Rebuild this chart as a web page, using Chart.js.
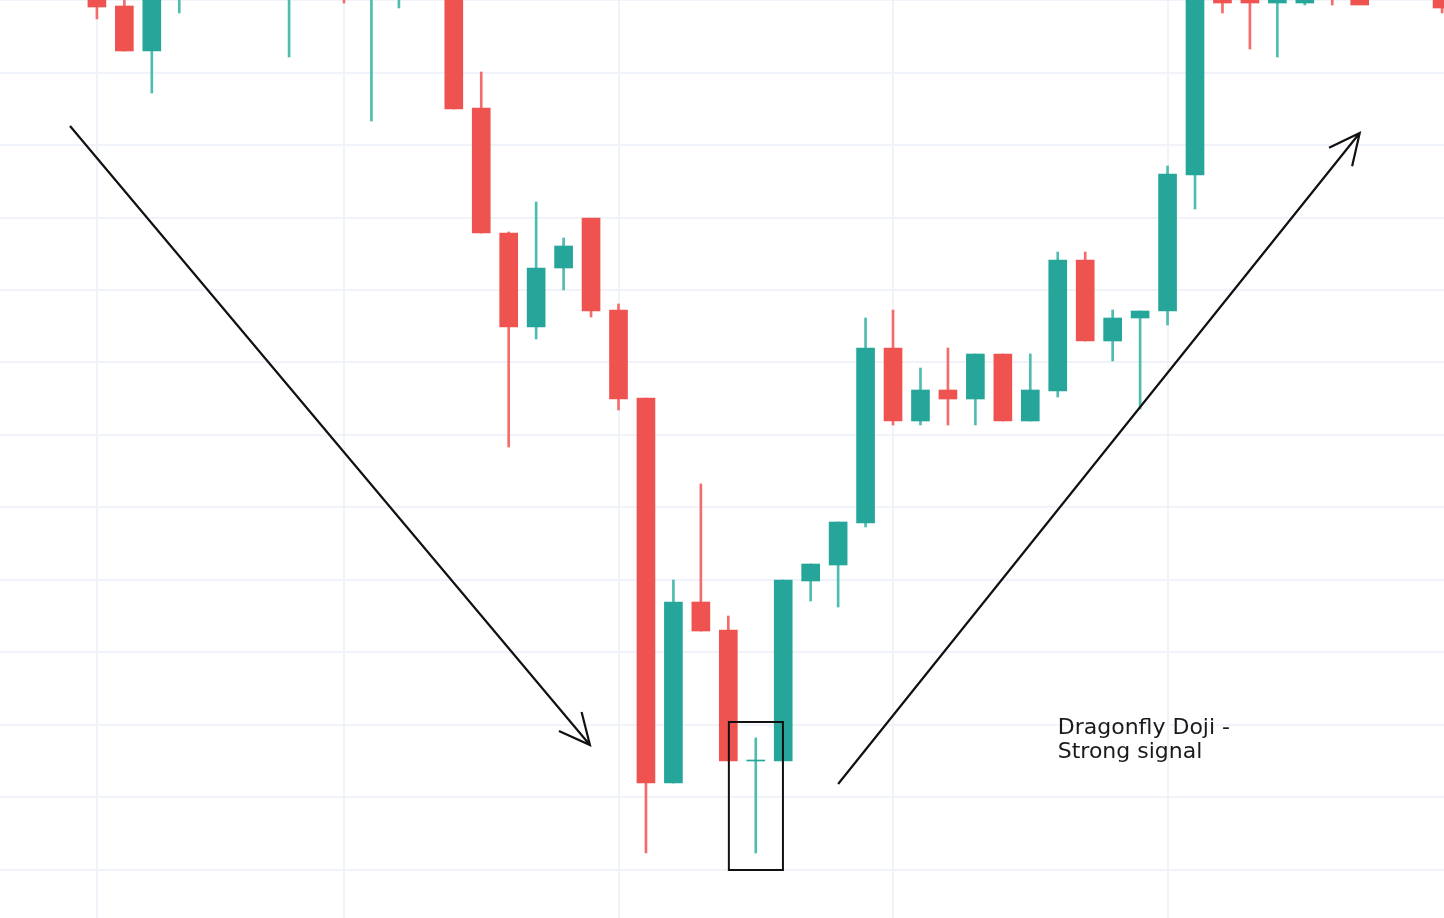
<!DOCTYPE html>
<html>
<head>
<meta charset="utf-8">
<script src="https://cdn.jsdelivr.net/npm/chart.js@4"></script>
<style>
  html, body { margin: 0; padding: 0; background: #fff; overflow: hidden; }
  #wrap { width: 1444px; height: 918px; }
</style>
</head>
<body>
<div id="wrap"><canvas id="chart"></canvas></div>
<script>
// candle values (price units); hidden ones sit above the visible window
const opens  = [925, 912, 867, 938, 960, 970, 965, 928, 950, 935, 928, 940, 960, 948, 810, 685, 591, 650, 700, 608, 520, 135, 316, 288, 157, 157, 337, 353, 395, 570, 497, 528, 519, 564, 497, 527, 658, 577, 600, 607, 743, 948, 923, 915, 915, 940, 938, 950, 945, 930];
const highs  = [928, 923, 933, 968, 975, 985, 980, 958, 975, 960, 958, 965, 980, 958, 846, 686, 716, 680, 686, 614, 520, 338, 434, 302, 180, 338, 354, 396, 600, 608, 550, 570, 564, 564, 564, 666, 666, 608, 607, 752, 960, 955, 928, 935, 920, 950, 945, 960, 955, 940];
const lows   = [899, 867, 825, 905, 950, 955, 950, 861, 945, 915, 797, 910, 945, 809, 685, 471, 579, 628, 601, 508, 65, 135, 287, 157, 65, 157, 317, 311, 391, 493, 493, 493, 493, 497, 497, 521, 577, 557, 509, 593, 709, 905, 869, 861, 913, 913, 925, 940, 930, 905];
const closes = [911, 867, 933, 958, 970, 975, 970, 948, 965, 925, 948, 950, 970, 809, 685, 591, 650, 672, 607, 519, 135, 316, 287, 157, 158, 338, 354, 396, 570, 497, 528, 519, 564, 497, 528, 658, 577, 600, 607, 744, 950, 915, 915, 935, 920, 925, 913, 945, 935, 910];
const xIndex = opens.map((_, i) => i);

const gridValues = [48, 121, 193, 266, 338, 411, 483, 556, 628, 700, 773, 845, 918];
const gridIndexes = [0, 9, 19, 29, 39];

const UP = '#26a69a', DOWN = '#ef5350';
const upColor = (i) => closes[i] >= opens[i] ? UP : DOWN;

// trend arrows, highlight box and note, in scale units
const arrows = [
  { from: [-0.98, 792], to: [17.96, 173] },
  { from: [27.0, 134], to: [46.0, 785] }
];
const boxArea = { x0: 23.02, x1: 24.99, y0: 196, y1: 48 };
const noteLines = ['Dragonfly Doji -', 'Strong signal'];
const notePos = [35.0, 190];

const overlay = {
  id: 'overlay',
  afterDatasetsDraw(chart) {
    const { ctx, scales: { x, y } } = chart;
    ctx.save();
    ctx.strokeStyle = '#111';
    ctx.lineWidth = 2.2;
    arrows.forEach(a => {
      const x1 = x.getPixelForValue(a.from[0]), y1 = y.getPixelForValue(a.from[1]);
      const x2 = x.getPixelForValue(a.to[0]), y2 = y.getPixelForValue(a.to[1]);
      ctx.beginPath();
      ctx.moveTo(x1, y1);
      ctx.lineTo(x2, y2);
      const ang = Math.atan2(y2 - y1, x2 - x1);
      const len = 34;
      ctx.moveTo(x2 - len * Math.cos(ang - 0.45), y2 - len * Math.sin(ang - 0.45));
      ctx.lineTo(x2, y2);
      ctx.lineTo(x2 - len * Math.cos(ang + 0.45), y2 - len * Math.sin(ang + 0.45));
      ctx.stroke();
    });
    ctx.lineWidth = 2;
    const bx = x.getPixelForValue(boxArea.x0), by = y.getPixelForValue(boxArea.y0);
    ctx.strokeRect(bx, by, x.getPixelForValue(boxArea.x1) - bx, y.getPixelForValue(boxArea.y1) - by);
    ctx.fillStyle = '#1a1a1a';
    ctx.font = '22px "DejaVu Sans"';
    ctx.textBaseline = 'middle';
    const tx = x.getPixelForValue(notePos[0]), ty = y.getPixelForValue(notePos[1]);
    noteLines.forEach((t, k) => ctx.fillText(t, tx, ty + k * 24));
    ctx.restore();
  }
};

new Chart(document.getElementById('chart'), {
  type: 'bar',
  data: {
    datasets: [
      {
        label: 'body',
        data: xIndex.map(i => ({ x: i, y: [opens[i], closes[i]] })),
        backgroundColor: ctx => upColor(ctx.dataIndex),
        barThickness: 18,
        grouped: false,
        order: 1
      },
      {
        label: 'wick',
        data: xIndex.map(i => ({ x: i, y: [lows[i], highs[i]] })),
        backgroundColor: ctx => upColor(ctx.dataIndex) === UP ? '#4fbcb0' : '#f36c6a',
        barThickness: 2,
        grouped: false,
        order: 2
      }
    ]
  },
  options: {
    responsive: true,
    maintainAspectRatio: false,
    animation: false,
    layout: { padding: 0 },
    plugins: { legend: { display: false }, tooltip: { enabled: false } },
    scales: {
      x: {
        type: 'linear',
        offset: false,
        bounds: 'ticks',
        min: -3.53,
        max: 49.07,
        border: { display: false },
        ticks: { display: false },
        grid: { color: '#f0f3fa', lineWidth: 2, drawTicks: false, offset: false },
        afterBuildTicks: s => { s.ticks = gridIndexes.map(v => ({ value: v })); }
      },
      y: {
        min: 0,
        max: 918,
        border: { display: false },
        ticks: { display: false },
        grid: { color: '#f0f3fa', lineWidth: 2, drawTicks: false },
        afterBuildTicks: s => { s.ticks = gridValues.map(v => ({ value: v })); }
      }
    }
  },
  plugins: [overlay]
});
</script>
</body>
</html>
